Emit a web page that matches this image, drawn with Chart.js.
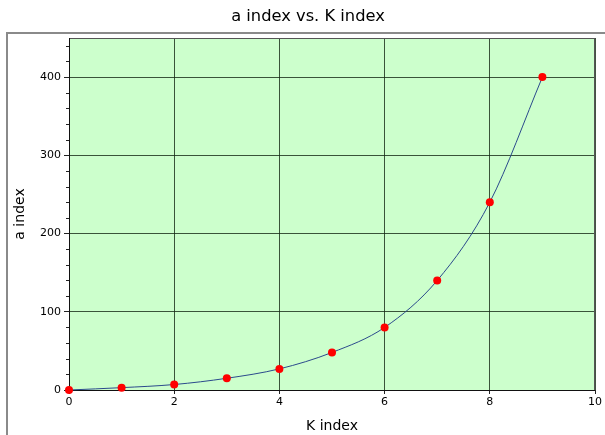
<!DOCTYPE html>
<html><head><meta charset="utf-8">
<script src="https://cdn.jsdelivr.net/npm/chart.js@4/dist/chart.umd.min.js"></script>
<style>html,body{margin:0;padding:0;background:#fff;}#wrap{width:605px;height:435px;position:relative;}</style>
</head><body><div id="wrap"><canvas id="c"></canvas></div>
<script>
const chartTitle = 'a index vs. K index';
const kIndex = [0, 1, 2, 3, 4, 5, 6, 7, 8, 9];
const aIndex = [0, 3, 7, 15, 27, 48, 80, 140, 240, 400];
const xTicks = [0, 2, 4, 6, 8, 10];
const yTicks = [0, 100, 200, 300, 400];

const FONT = "'DejaVu Sans', sans-serif";

const framePlugin = {
  id: 'frame',
  beforeDraw(chart) {
    const ctx = chart.ctx;
    ctx.save();
    ctx.strokeStyle = '#8a8a8a';
    ctx.lineWidth = 2;
    ctx.strokeRect(7, 33, 700, 500);
    const a = chart.chartArea;
    ctx.fillStyle = '#ccffcc';
    ctx.fillRect(a.left, a.top, a.right - a.left, a.bottom - a.top);
    ctx.fillStyle = '#000';
    ctx.font = "16.3px " + FONT;
    ctx.textAlign = 'center';
    ctx.textBaseline = 'middle';
    ctx.fillText(chartTitle, 308, 17);
    ctx.restore();
  },
  beforeDatasetsDraw(chart) {
    const ctx = chart.ctx, a = chart.chartArea, ys = chart.scales.y;
    ctx.save();
    ctx.strokeStyle = '#555';
    ctx.lineWidth = 1;
    ctx.strokeRect(a.left + 0.5, a.top + 0.5, a.right - a.left - 1, a.bottom - a.top);
    ctx.strokeStyle = '#222';
    ctx.beginPath();
    for (let v = 0; v <= 440; v += 20) {
      if (v % 100 === 0) continue;
      const y = Math.round(ys.getPixelForValue(v)) + 0.5;
      ctx.moveTo(a.left - 3, y); ctx.lineTo(a.left, y);
    }
    ctx.stroke();
    ctx.beginPath();
    ctx.strokeStyle = '#111';
    ctx.moveTo(a.left + 0.5, a.top); ctx.lineTo(a.left + 0.5, a.bottom + 0.5);
    ctx.lineTo(a.right, a.bottom + 0.5);
    ctx.stroke();
    ctx.restore();
  }
};

new Chart(document.getElementById('c'), {
  type: 'scatter',
  data: {
    datasets: [{
      label: 'a index',
      data: kIndex.map((k, i) => ({x: k, y: aIndex[i]})),
      showLine: true,
      borderColor: '#2b4a8c',
      borderWidth: 1,
      cubicInterpolationMode: 'monotone',
      pointBackgroundColor: '#ff0000',
      pointBorderColor: '#ff0000',
      pointRadius: 4,
      pointBorderWidth: 0,
      clip: false
    }]
  },
  options: {
    responsive: true,
    maintainAspectRatio: false,
    animation: false,
    layout: {padding: {left: 0, right: 10, top: 38, bottom: 0}},
    plugins: {
      legend: {display: false},
      tooltip: {enabled: false},
      title: {display: false}
    },
    scales: {
      x: {
        type: 'linear',
        min: 0, max: 10,
        afterBuildTicks: s => { s.ticks = xTicks.map(v => ({value: v})); },
        afterFit: s => { s.height = 45; },
        border: {display: false},
        grid: {color: 'rgba(20,40,20,0.8)', tickColor: '#222', tickLength: 4, lineWidth: 1},
        ticks: {color: '#000', font: {family: FONT, size: 11}, padding: 2, maxRotation: 0},
        title: {display: true, text: 'K index', color: '#000', font: {family: FONT, size: 14}, padding: {top: 4, bottom: 0}}
      },
      y: {
        type: 'linear',
        min: 0, max: 450,
        afterBuildTicks: s => { s.ticks = yTicks.map(v => ({value: v})); },
        afterFit: s => { s.width = 69; },
        border: {display: false},
        grid: {color: 'rgba(20,40,20,0.8)', tickColor: '#222', tickLength: 5, lineWidth: 1},
        ticks: {color: '#000', font: {family: FONT, size: 11}, padding: 3},
        title: {display: true, text: 'a index', color: '#000', font: {family: FONT, size: 14}, padding: {top: 12, bottom: 4}}
      }
    }
  },
  plugins: [framePlugin]
});
</script></body></html>
